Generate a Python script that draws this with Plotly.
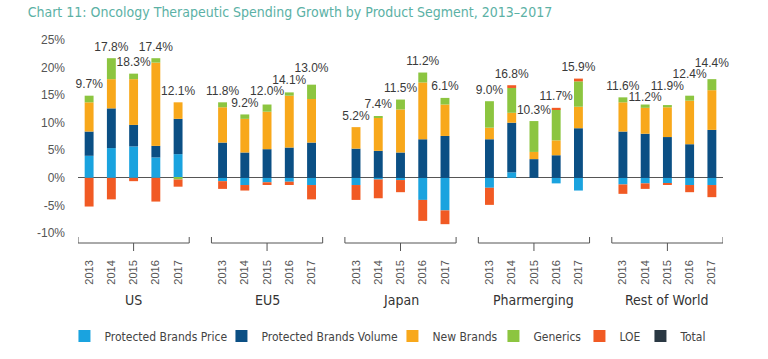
import plotly.graph_objects as go

regions = ["US", "EU5", "Japan", "Pharmerging", "Rest of World"]
years = ["2013", "2014", "2015", "2016", "2017"]

# values in % growth, region-major order (US 2013..2017, EU5 2013..2017, ...)
price = [4.0, 5.4, 5.7, 3.7, 4.3,
         -0.6, -1.3, -0.8, -0.7, -1.3,
         -1.3, -0.3, -0.4, -4.0, -5.9,
         -1.8, 1.0, 0.0, -1.0, -2.3,
         -1.2, -1.0, -1.0, -1.3, -1.3]
volume = [4.4, 7.2, 3.9, 2.1, 6.4,
          6.4, 4.6, 5.2, 5.5, 6.4,
          5.3, 4.9, 4.6, 7.0, 7.6,
          7.0, 9.0, 3.4, 4.1, 9.0,
          8.4, 8.0, 7.4, 6.1, 8.7]
new_brands = [5.3, 5.3, 8.3, 15.1, 3.0,
              6.4, 6.1, 6.8, 9.4, 7.9,
              3.9, 6.0, 7.8, 10.3, 5.7,
              2.1, 1.8, 1.3, 2.7, 3.9,
              5.3, 4.7, 5.4, 7.9, 7.2]
generics = [1.2, 3.8, 1.0, 0.8, -0.3,
            0.9, 0.8, 1.3, 0.6, 2.6,
            0.0, 0.2, 1.8, 1.8, 1.2,
            4.8, 4.5, 5.6, 5.6, 4.6,
            0.9, 0.6, 0.4, 0.9, 2.0]
loe = [-5.2, -3.9, -0.6, -4.3, -1.3,
       -1.4, -1.0, -0.5, -0.6, -2.6,
       -2.7, -3.4, -2.2, -3.8, -2.5,
       -3.1, 0.5, 0.0, 0.3, 0.5,
       -1.7, -1.0, -0.3, -1.3, -2.2]
total = [9.7, 17.8, 18.3, 17.4, 12.1,
         11.8, 9.2, 12.0, 14.1, 13.0,
         5.2, 7.4, 11.5, 11.2, 6.1,
         9.0, 16.8, 10.3, 11.7, 15.9,
         11.6, 11.2, 11.9, 12.4, 14.4]
y_ticks = [-10, -5, 0, 5, 10, 15, 20, 25]

series = [
    ("Protected Brands Price", price, "#1aa3df"),
    ("Protected Brands Volume", volume, "#0b4f84"),
    ("New Brands", new_brands, "#f8a81b"),
    ("Generics", generics, "#8cc540"),
    ("LOE", loe, "#f15a24"),
]
total_color = "#2a3843"

n_years = len(years)
slot = n_years + 1
xpos = [g * slot + j for g in range(len(regions)) for j in range(n_years)]
xlabels = [y for _ in regions for y in years]

# legend entry widths (px of text area) so the row spans like the original
legend_widths = [112, 126, 56, 41, 16, 30]

fig = go.Figure()
for k, (name, vals, col) in enumerate(series):
    fig.add_trace(go.Bar(x=xpos, y=vals, name=name, marker_color=col,
                         marker_line_width=0, width=0.4,
                         legendwidth=legend_widths[k]))
# legend-only entry for Total
fig.add_trace(go.Bar(x=[None], y=[None], name="Total", marker_color=total_color,
                     marker_line_width=0, legendwidth=legend_widths[-1]))

# total labels: above each bar, staggered within a region when they collide
tops = [sum(max(s[1][i], 0) for s in series) for i in range(len(xpos))]
lift, gap, min_lift = 1.9, 2.1, 0.8
label_y = []
for i in range(len(xpos)):
    y = tops[i] + lift
    if i % n_years != 0:
        prev = label_y[i - 1]
        if abs(y - prev) < gap:
            down = prev - gap
            y = down if down >= tops[i] + min_lift else prev + gap
    label_y.append(y)

fig.add_trace(go.Scatter(x=xpos, y=label_y, mode="text",
                         text=[f"{t:.1f}%" for t in total],
                         textposition="middle center",
                         textfont=dict(family="Liberation Sans, Arial, sans-serif",
                                       size=12, color="#3a3a3a"),
                         showlegend=False, cliponaxis=False, hoverinfo="skip"))

shapes = []
annotations = []
for g, r in enumerate(regions):
    x0 = g * slot - 0.5
    x1 = g * slot + n_years - 0.5
    xc = g * slot + (n_years - 1) / 2
    line = dict(color="#555555", width=1)
    shapes.append(dict(type="line", xref="x", yref="paper", ysizemode="pixel",
                       yanchor=0, x0=x0, x1=x1, y0=-10, y1=-10, line=line))
    shapes.append(dict(type="line", xref="x", yref="paper", ysizemode="pixel",
                       yanchor=0, x0=x0, x1=x0, y0=-4, y1=-10, line=line))
    shapes.append(dict(type="line", xref="x", yref="paper", ysizemode="pixel",
                       yanchor=0, x0=x1, x1=x1, y0=-4, y1=-10, line=line))
    shapes.append(dict(type="line", xref="x", yref="paper", ysizemode="pixel",
                       yanchor=0, x0=xc, x1=xc, y0=-10, y1=-18, line=line))
    annotations.append(dict(x=xc, xref="x", y=0, yref="paper", yshift=-67,
                            text=r, showarrow=False, yanchor="middle",
                            font=dict(family="DejaVu Sans Condensed, sans-serif",
                                      size=14, color="#333333")))

fig.update_layout(
    width=768, height=359,
    margin=dict(l=78, r=45, t=40, b=126, autoexpand=False),
    paper_bgcolor="white", plot_bgcolor="white",
    barmode="relative",
    title=dict(text="Chart 11: Oncology Therapeutic Spending Growth by Product Segment, 2013\u20132017",
               x=0.036, xanchor="left", y=0.965, yanchor="middle",
               font=dict(family="DejaVu Sans Condensed, sans-serif",
                         size=14, color="#5bb1a5")),
    xaxis=dict(range=[-0.5, len(regions) * slot - 1.5], tickvals=xpos, ticktext=xlabels,
               tickangle=-90, showgrid=False, zeroline=False, showline=False,
               ticks="", ticklabelstandoff=24, automargin=False,
               tickfont=dict(family="Liberation Sans, Arial, sans-serif", size=11, color="#555555")),
    yaxis=dict(range=[y_ticks[0], y_ticks[-1]], tickvals=y_ticks,
               ticktext=[f"{v}%" for v in y_ticks], automargin=False,
               showgrid=False, zeroline=True, zerolinecolor="#555555",
               zerolinewidth=1, showline=False, ticks="", ticklabelstandoff=12,
               tickfont=dict(family="Liberation Sans, Arial, sans-serif", size=12, color="#555555")),
    legend=dict(orientation="h", x=-0.021, xanchor="left", y=-0.534, yanchor="middle",
                font=dict(family="DejaVu Sans Condensed, sans-serif",
                          size=12, color="#444444"),
                itemclick=False, traceorder="normal"),
    shapes=shapes, annotations=annotations,
)
fig.write_html("out.html", config={"displayModeBar": False},
               post_script="document.body.style.margin='0';")
